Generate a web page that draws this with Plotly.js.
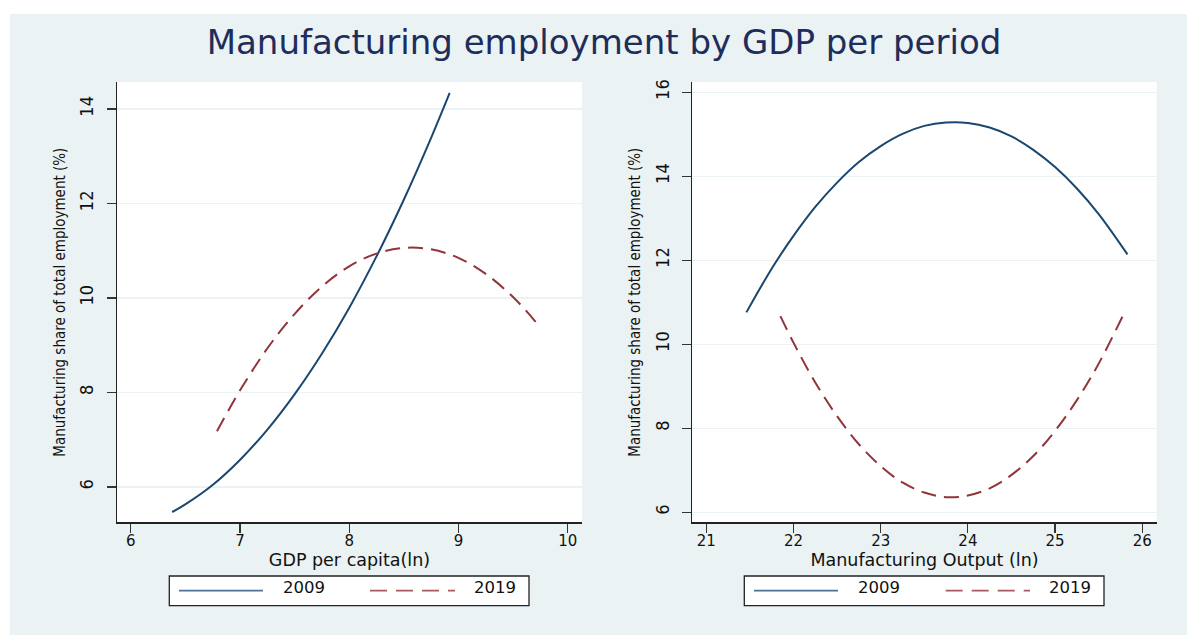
<!DOCTYPE html>
<html>
<head>
<meta charset="utf-8">
<script src="https://cdn.plot.ly/plotly-3.0.1.min.js"></script>
<style>html,body{margin:0;padding:0;background:#fff;}</style>
</head>
<body>
<div id="chart" style="width:1187px;height:635px;"></div>
<script>
// ---- data ----
const seriesNames = ["2009", "2019"];

// Left panel: GDP per capita (ln)
const gdpX2009 = [6.38, 6.5, 6.75, 7.0, 7.25, 7.5, 7.75, 8.0, 8.25, 8.5, 8.75, 8.92];
const gdpY2009 = [5.47, 5.63, 6.04, 6.57, 7.21, 7.96, 8.82, 9.79, 10.88, 12.08, 13.39, 14.34];
const gdpX2019 = [6.79, 7.0, 7.25, 7.5, 7.75, 8.0, 8.25, 8.5, 8.75, 9.0, 9.25, 9.5, 9.72];
const gdpY2019 = [7.18, 8.04, 8.93, 9.66, 10.24, 10.67, 10.94, 11.06, 11.03, 10.85, 10.51, 10.02, 9.46];

// Right panel: Manufacturing output (ln)
const mfgX2009 = [21.46, 21.75, 22.0, 22.25, 22.5, 22.75, 23.0, 23.25, 23.5, 23.75, 24.0, 24.25, 24.5, 24.75, 25.0, 25.25, 25.5, 25.83];
const mfgY2009 = [10.76, 11.80, 12.58, 13.27, 13.85, 14.34, 14.72, 15.01, 15.20, 15.28, 15.27, 15.16, 14.95, 14.63, 14.22, 13.71, 13.10, 12.14];
const mfgX2019 = [21.85, 22.0, 22.25, 22.5, 22.75, 23.0, 23.25, 23.5, 23.75, 24.0, 24.25, 24.5, 24.75, 25.0, 25.25, 25.5, 25.81];
const mfgY2019 = [10.67, 10.04, 9.09, 8.29, 7.62, 7.10, 6.71, 6.47, 6.36, 6.40, 6.57, 6.89, 7.34, 7.94, 8.67, 9.54, 10.82];

const gdpTicksX = [6, 7, 8, 9, 10];
const gdpTicksY = [6, 8, 10, 12, 14];
const mfgTicksX = [21, 22, 23, 24, 25, 26];
const mfgTicksY = [6, 8, 10, 12, 14, 16];

// ---- styling ----
const W = 1187, H = 635;
const NAVY = "#1a476f", MAROON = "#90353b", BG = "#eaf2f3";
const DASH = "15px,8px";
const px = v => v / W;
const py = v => 1 - v / H;

const tickFontY = {family: "Liberation Sans Narrow, DejaVu Sans Condensed, Arial Narrow, sans-serif", size: 18, color: "#111"};
const titleFontY = {family: "Liberation Sans Narrow, DejaVu Sans Condensed, Arial Narrow, sans-serif", size: 15, color: "#111"};
const tickFontX = {family: "DejaVu Sans, sans-serif", size: 15, color: "#111"};
const titleFontX = {family: "DejaVu Sans, sans-serif", size: 17.5, color: "#111"};

function xAxis(domain, range, ticks, title) {
  return {
    domain: domain, range: range, tickvals: ticks, ticktext: ticks.map(String),
    showgrid: false, zeroline: false, showline: true, linecolor: "#222", linewidth: 1.5,
    ticks: "outside", ticklen: 9, tickwidth: 1.2, tickcolor: "#333",
    ticklabelstandoff: -5,
    tickfont: tickFontX, title: {text: title, font: titleFontX, standoff: 0},
    fixedrange: true
  };
}
function yAxis(domain, range, ticks, title) {
  return {
    domain: domain, range: range, tickvals: ticks, ticktext: ticks.map(String),
    showgrid: true, gridcolor: BG, gridwidth: 1.5, zeroline: false,
    showline: true, linecolor: "#222", linewidth: 1.5,
    ticks: "outside", ticklen: 9, tickwidth: 1.2, tickcolor: "#333", tickangle: -90,
    ticklabelstandoff: 6,
    tickfont: tickFontY, title: {text: title, font: titleFontY, standoff: 7}, fixedrange: true
  };
}

const yTitle = "Manufacturing share of total employment (%)";

const traces = [
  {x: gdpX2009, y: gdpY2009, name: seriesNames[0], type: "scatter", mode: "lines", xaxis: "x", yaxis: "y",
   line: {color: NAVY, width: 2, shape: "spline"}, showlegend: false, hoverinfo: "skip"},
  {x: gdpX2019, y: gdpY2019, name: seriesNames[1], type: "scatter", mode: "lines", xaxis: "x", yaxis: "y",
   line: {color: MAROON, width: 2, dash: DASH, shape: "spline"}, showlegend: false, hoverinfo: "skip"},
  {x: mfgX2009, y: mfgY2009, name: seriesNames[0], type: "scatter", mode: "lines", xaxis: "x2", yaxis: "y2",
   line: {color: NAVY, width: 2, shape: "spline"}, showlegend: false, hoverinfo: "skip"},
  {x: mfgX2019, y: mfgY2019, name: seriesNames[1], type: "scatter", mode: "lines", xaxis: "x2", yaxis: "y2",
   line: {color: MAROON, width: 2, dash: DASH, shape: "spline"}, showlegend: false, hoverinfo: "skip"}
];

const ydom = [py(522.3), py(82)];
const xa1 = xAxis([px(117), px(582)], [5.875, 10.131], gdpTicksX, "GDP per capita(ln)");
xa1.anchor = "y";
const ya1 = yAxis(ydom, [5.252, 14.572], gdpTicksY, yTitle);
ya1.anchor = "x";
const xa2 = xAxis([px(692.3), px(1156.7)], [20.84, 26.165], mfgTicksX, "Manufacturing Output (ln)");
xa2.anchor = "y2";
const ya2 = yAxis(ydom, [5.762, 16.245], mfgTicksY, yTitle);
ya2.anchor = "x2";

// legend boxes (drawn as layout decoration)
function legendBox(x0, x1, s1a, s1b, t1, s2a, s2b, t2) {
  const yTop = 576, yBot = 605.7, yLine = 590.7, yText = 587.5;
  const shapes = [
    {type: "rect", xref: "paper", yref: "paper", x0: px(x0), x1: px(x1), y0: py(yBot), y1: py(yTop),
     line: {color: "#222", width: 1.3}, fillcolor: "#fff", layer: "above"},
    {type: "line", xref: "paper", yref: "paper", x0: px(s1a), x1: px(s1b), y0: py(yLine), y1: py(yLine),
     line: {color: "#4f7298", width: 1.8}},
    {type: "line", xref: "paper", yref: "paper", x0: px(s2a), x1: px(s2b), y0: py(yLine), y1: py(yLine),
     line: {color: "#a85a60", width: 1.8, dash: "17px,9px"}}
  ];
  const ann = [
    {text: seriesNames[0], x: px(t1), y: py(yText), xref: "paper", yref: "paper", showarrow: false,
     xanchor: "center", yanchor: "middle", font: {family: "DejaVu Sans, sans-serif", size: 16.5, color: "#111"}},
    {text: seriesNames[1], x: px(t2), y: py(yText), xref: "paper", yref: "paper", showarrow: false,
     xanchor: "center", yanchor: "middle", font: {family: "DejaVu Sans, sans-serif", size: 16.5, color: "#111"}}
  ];
  return {shapes, ann};
}
const lg1 = legendBox(169.3, 529, 179, 263, 303.7, 370, 455, 495.3);
const lg2 = legendBox(744.3, 1104, 754, 838, 878.7, 945.7, 1030, 1070.3);

const bgShapes = [
  {type: "rect", xref: "paper", yref: "paper", x0: px(10), x1: 1.01, y0: -0.01, y1: py(14),
   line: {width: 0}, fillcolor: BG, layer: "below"},
  {type: "rect", xref: "paper", yref: "paper", x0: px(117), x1: px(582), y0: py(522.3), y1: py(82),
   line: {width: 0}, fillcolor: "#fff", layer: "below"},
  {type: "rect", xref: "paper", yref: "paper", x0: px(692.3), x1: px(1156.7), y0: py(522.3), y1: py(82),
   line: {width: 0}, fillcolor: "#fff", layer: "below"}
];

const layout = {
  width: W, height: H,
  margin: {l: 0, r: 0, t: 0, b: 0, pad: 0},
  paper_bgcolor: "#fff", plot_bgcolor: "rgba(0,0,0,0)",
  title: {text: "Manufacturing employment by GDP per period", x: px(604), xanchor: "center",
          y: py(42.5), yanchor: "middle", yref: "container", xref: "container",
          font: {family: "DejaVu Sans, sans-serif", size: 34, color: "#1e2d5a"}},
  xaxis: xa1, yaxis: ya1, xaxis2: xa2, yaxis2: ya2,
  shapes: bgShapes.concat(lg1.shapes, lg2.shapes),
  annotations: lg1.ann.concat(lg2.ann),
  showlegend: false
};

Plotly.newPlot("chart", traces, layout, {displayModeBar: false, staticPlot: true});
</script>
</body>
</html>
